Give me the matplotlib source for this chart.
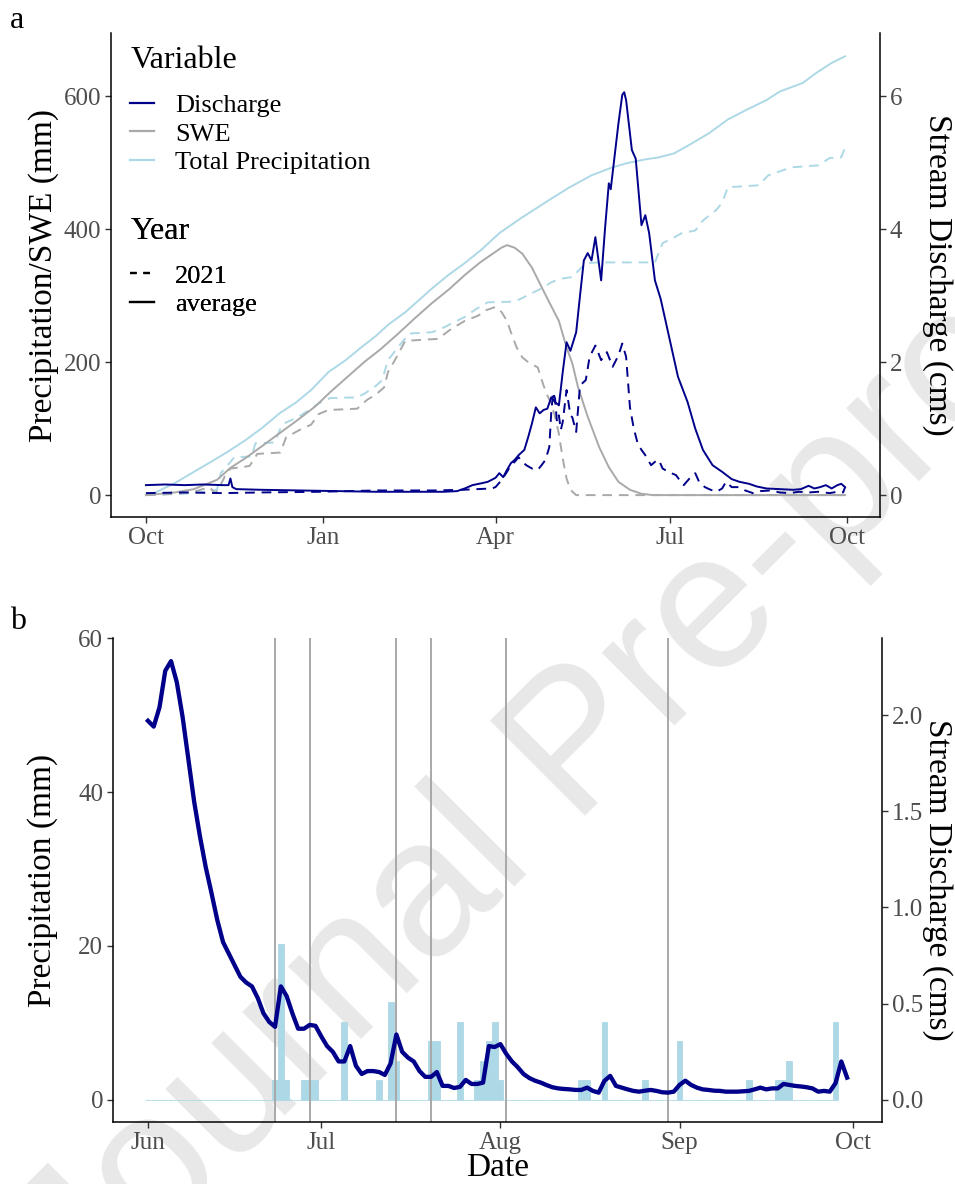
import matplotlib.pyplot as plt
import matplotlib.dates as mdates
from matplotlib.lines import Line2D
import numpy as np
import pandas as pd

plt.rcParams['font.family'] = ['Liberation Serif', 'DejaVu Serif']

NAVY = '#00008B'
GREY = '#A9A9A9'
LBLUE = '#ADD8E6'
TICK_GREY = '#4D4D4D'

# ---- panel a: water year, day 0 = 1 Oct 2020 ----
wy_start = pd.Timestamp('2020-10-01')

precip_avg_days = [0, 5, 15, 25, 35, 43, 52, 60, 70, 78, 86, 95, 104, 112, 120, 126, 135, 149,
                   157, 166, 175, 184, 195, 210, 220, 232, 242, 250, 260, 267, 275, 283, 293,
                   303, 313, 323, 330, 342, 349, 357, 364]
precip_avg_mm = [0, 4, 18, 35, 52, 66, 83, 100, 124, 139, 158, 185, 203, 222, 240, 256, 275, 311,
                 330, 349, 370, 394, 416, 444, 462, 481, 492, 499, 505, 508, 514, 527, 544,
                 565, 580, 594, 607, 620, 635, 650, 660]

precip_2021_days = [0, 20, 30, 37, 39, 44, 46, 55, 57, 67, 70, 72, 79, 86, 90, 96, 110, 114, 120,
                    123, 126, 132, 137, 149, 155, 159, 166, 172, 178, 192, 197, 206, 211, 215,
                    222, 226, 229, 236, 265, 269, 274, 279, 286, 290, 297, 300, 303, 319, 324,
                    333, 336, 350, 356, 362, 364]
precip_2021_mm = [0, 2, 5, 8, 33, 50, 57, 58, 78, 79, 100, 108, 117, 130, 138, 146, 147, 153, 165,
                  173, 203, 225, 243, 245, 252, 258, 268, 280, 290, 291, 298, 311, 320, 325,
                  328, 340, 349, 350, 350, 379, 386, 394, 398, 413, 429, 440, 463, 466, 481,
                  490, 493, 496, 507, 508, 523]

swe_avg_days = [0, 15, 25, 37, 44, 52, 62, 70, 79, 88, 96, 105, 114, 122, 131, 140, 149, 158, 166,
                174, 180, 185, 188, 192, 196, 201, 206, 210, 215, 219, 222, 225, 230, 236, 241,
                246, 252, 258, 264, 364]
swe_avg_mm = [0, 4, 9, 23, 41, 56, 77, 94, 113, 133, 155, 178, 201, 219, 242, 266, 289, 310, 331,
              350, 362, 372, 376, 372, 363, 342, 313, 290, 262, 222, 198, 162, 118, 72, 42,
              20, 8, 2, 0, 0]

swe_2021_days = [0, 15, 25, 33, 36, 38, 41, 44, 50, 54, 58, 70, 73, 80, 86, 90, 95, 110, 115, 120,
                 124, 126, 130, 135, 152, 159, 166, 173, 177, 182, 185, 188, 190, 193, 196, 199,
                 204, 207, 209, 211, 213, 215, 217, 219, 221, 224, 364]
swe_2021_mm = [0, 2, 5, 12, 3, 10, 28, 40, 42, 44, 62, 64, 87, 98, 106, 122, 128, 130, 143, 152,
               162, 185, 205, 232, 235, 250, 262, 270, 278, 283, 276, 262, 245, 222, 207, 200,
               192, 165, 150, 138, 118, 92, 55, 25, 8, 0, 0]

q_avg_days = [0, 10, 20, 30, 40, 43, 44, 45, 47, 60, 80, 100, 120, 140, 155, 162, 166, 170, 175,
              178, 182, 184, 186, 188, 190, 192, 194, 197, 199, 201, 203, 205, 207, 209, 211, 213,
              215, 217, 219, 221, 224, 226, 228, 230, 232, 234, 237, 239, 241, 242, 243, 246,
              248, 249, 250, 253, 255, 258, 260, 262, 265, 268, 272, 277, 282, 286, 290, 295,
              300, 305, 309, 314, 318, 323, 330, 337, 341, 345, 348, 351, 354, 357, 360, 362, 364]
q_avg_cms = [0.15, 0.16, 0.15, 0.16, 0.15, 0.15, 0.25, 0.12, 0.09, 0.08, 0.07, 0.06, 0.05, 0.05,
             0.05, 0.06, 0.10, 0.15, 0.18, 0.20, 0.26, 0.33, 0.27, 0.38, 0.48, 0.53, 0.60, 0.68,
             0.87, 1.08, 1.32, 1.23, 1.28, 1.30, 1.47, 1.40, 1.35, 1.85, 2.30, 2.17, 2.45, 3.00,
             3.53, 3.64, 3.53, 3.88, 3.23, 4.00, 4.69, 4.60, 4.85, 5.59, 6.02, 6.06, 5.94, 5.19,
             5.06, 4.06, 4.21, 3.94, 3.23, 2.95, 2.43, 1.78, 1.40, 1.00, 0.68, 0.45, 0.35, 0.24,
             0.20, 0.17, 0.13, 0.10, 0.09, 0.08, 0.09, 0.14, 0.10, 0.12, 0.15, 0.10, 0.15, 0.17,
             0.12]

q_2021_days = [0, 20, 40, 60, 90, 120, 150, 165, 180, 182, 185, 188, 190, 192, 194, 196, 198, 201,
               204, 206, 208, 210, 211, 212, 213, 214, 215, 216, 217, 219, 221, 222, 224, 226,
               229, 231, 234, 237, 240, 243, 246, 248, 250, 252, 254, 256, 258, 260, 263, 265,
               267, 269, 272, 276, 278, 280, 283, 286, 288, 291, 294, 297, 300, 302, 305, 309,
               312, 316, 320, 325, 330, 335, 340, 345, 350, 356, 360, 363, 364]
q_2021_cms = [0.03, 0.04, 0.03, 0.04, 0.05, 0.07, 0.07, 0.08, 0.10, 0.12, 0.22, 0.35, 0.45, 0.50,
              0.57, 0.50, 0.45, 0.40, 0.38, 0.45, 0.53, 0.72, 1.23, 1.55, 1.45, 1.10, 1.20, 0.98,
              1.10, 1.58, 1.20, 1.17, 0.95, 1.65, 1.73, 2.08, 2.25, 2.03, 2.15, 1.93, 2.10, 2.28,
              2.08, 1.32, 1.00, 0.78, 0.68, 0.60, 0.45, 0.50, 0.53, 0.40, 0.35, 0.30, 0.22, 0.15,
              0.25, 0.33, 0.20, 0.12, 0.08, 0.05, 0.10, 0.20, 0.12, 0.12, 0.07, 0.03, 0.06, 0.07,
              0.04, 0.03, 0.05, 0.04, 0.05, 0.03, 0.05, 0.04, 0.12]

# ---- panel b: summer 2021, day 0 = 1 Jun 2021 ----
summer_start = pd.Timestamp('2021-06-01')

q_summer_cms = [1.97, 1.94, 2.04, 2.23, 2.28, 2.17, 1.99, 1.77, 1.55, 1.37, 1.21, 1.075, 0.935,
                0.82, 0.76, 0.70, 0.64, 0.61, 0.59, 0.53, 0.45, 0.405, 0.38, 0.59, 0.54, 0.45,
                0.37, 0.37, 0.39, 0.385, 0.33, 0.28, 0.25, 0.20, 0.20, 0.28, 0.177, 0.135, 0.15,
                0.15, 0.145, 0.13, 0.19, 0.34, 0.25, 0.22, 0.20, 0.15, 0.12, 0.12, 0.145, 0.073,
                0.073, 0.062, 0.068, 0.104, 0.083, 0.083, 0.09, 0.28, 0.275, 0.29, 0.24, 0.20,
                0.17, 0.135, 0.114, 0.10, 0.09, 0.077, 0.066, 0.06, 0.057, 0.055, 0.052, 0.052,
                0.064, 0.047, 0.038, 0.099, 0.125, 0.073, 0.064, 0.055, 0.047, 0.043, 0.048,
                0.052, 0.047, 0.04, 0.038, 0.043, 0.078, 0.10, 0.078, 0.064, 0.055, 0.052, 0.048,
                0.047, 0.043, 0.043, 0.043, 0.045, 0.047, 0.055, 0.064, 0.055, 0.06, 0.06, 0.083,
                0.078, 0.073, 0.07, 0.066, 0.06, 0.043, 0.047, 0.043, 0.087, 0.20, 0.116]

rain_ndays = 120
rain_days = [22, 23, 24, 27, 28, 29, 34, 40, 42, 43, 49, 50, 54, 57, 58, 59, 60, 61, 75, 76, 79,
             86, 92, 104, 109, 110, 111, 119]
rain_mm = [2.54, 20.32, 2.54, 2.54, 2.54, 2.54, 10.16, 2.54, 12.7, 5.08, 7.62, 7.62, 10.16, 2.54,
           5.08, 7.62, 10.16, 2.54, 2.54, 2.54, 10.16, 2.54, 7.62, 2.54, 2.54, 2.54, 5.08, 10.16]

sample_dates = ['2021-06-23', '2021-06-29', '2021-07-14', '2021-07-20', '2021-08-02', '2021-08-30']


def to_dates(start, days):
    return start + pd.to_timedelta(np.asarray(days), unit='D')


def style_axes(ax, right=False):
    for side in ['top', 'right', 'left', 'bottom']:
        ax.spines[side].set_visible(False)
    if right:
        ax.spines['right'].set_visible(True)
        ax.spines['right'].set_linewidth(1.1)
    else:
        ax.spines['left'].set_visible(True)
        ax.spines['bottom'].set_visible(True)
        ax.spines['left'].set_linewidth(1.1)
        ax.spines['bottom'].set_linewidth(1.1)
    ax.tick_params(labelsize=18, labelcolor=TICK_GREY, color='#333333', length=4, width=1, pad=3)


def add_legend(ax, handles, labels, title, top):
    leg = ax.legend(handles, labels, title=title, loc='upper left', bbox_to_anchor=(0.008, top),
                    frameon=False, fontsize=19, title_fontsize=23, handlelength=0.9,
                    handletextpad=0.8, labelspacing=0.2, alignment='left', borderaxespad=0.1)
    # extra room between the legend title and its keys
    leg._legend_box.sep = 13
    ax.add_artist(leg)
    return leg


fig = plt.figure(figsize=(9.55, 11.84), dpi=100)

# watermark
fig.text(0.089, -0.111, 'Journal Pre-proof', rotation=45, rotation_mode='anchor',
         ha='left', va='baseline', fontsize=140, color='#E8E8E8',
         family=['Liberation Sans', 'DejaVu Sans'], zorder=-10)

# ---------- panel a ----------
ax1 = fig.add_axes([0.1162, 0.5633, 0.8053, 0.4088])
ax1.set_facecolor('none')
ax1r = ax1.twinx()

ax1.plot(to_dates(wy_start, precip_avg_days), precip_avg_mm, color=LBLUE, lw=1.4)
ax1.plot(to_dates(wy_start, precip_2021_days), precip_2021_mm, color=LBLUE, lw=1.4, dashes=(5, 3.5))
ax1.plot(to_dates(wy_start, swe_avg_days), swe_avg_mm, color=GREY, lw=1.4)
ax1.plot(to_dates(wy_start, swe_2021_days), swe_2021_mm, color=GREY, lw=1.4, dashes=(5, 3.5))
ax1r.plot(to_dates(wy_start, q_avg_days), q_avg_cms, color=NAVY, lw=1.4)
ax1r.plot(to_dates(wy_start, q_2021_days), q_2021_cms, color=NAVY, lw=1.4, dashes=(5, 3.5))

pad_a = pd.Timedelta(days=18.2)
ax1.set_xlim(wy_start - pad_a, wy_start + pd.Timedelta(days=364) + pad_a)
ax1.set_ylim(-33, 695)
ax1r.set_ylim(-0.33, 6.95)
ax1.set_yticks([0, 200, 400, 600])
ax1r.set_yticks([0, 2, 4, 6])
ax1.set_xticks(pd.to_datetime(['2020-10-01', '2021-01-01', '2021-04-01', '2021-07-01', '2021-10-01']))
ax1.xaxis.set_major_formatter(mdates.DateFormatter('%b'))
style_axes(ax1)
style_axes(ax1r, right=True)

ax1.set_ylabel('Precipitation/SWE (mm)', fontsize=24)
ax1.yaxis.set_label_coords(-0.088, 0.5)
ax1.yaxis.label.set_va('center')
ax1r.set_ylabel('Stream Discharge (cms)', fontsize=24, rotation=270)
ax1r.yaxis.set_label_coords(1.074, 0.5)
ax1r.yaxis.label.set_va('center')

var_handles = [Line2D([], [], color=NAVY, lw=1.6), Line2D([], [], color=GREY, lw=1.6),
               Line2D([], [], color=LBLUE, lw=1.6)]
add_legend(ax1r, var_handles, ['Discharge', 'SWE', 'Total Precipitation'], 'Variable', 1.0)
year_handles = [Line2D([], [], color='black', lw=1.6, dashes=(3, 3)),
                Line2D([], [], color='black', lw=1.6)]
add_legend(ax1r, year_handles, ['2021', 'average'], 'Year', 0.647)

fig.text(0.010, 0.995, 'a', fontsize=23, va='top', ha='left')

# ---------- panel b ----------
ax2 = fig.add_axes([0.1183, 0.0524, 0.8053, 0.4087])
ax2.set_facecolor('none')
ax2r = ax2.twinx()

rain_daily = np.zeros(rain_ndays)
rain_daily[rain_days] = rain_mm
ax2.bar(to_dates(summer_start, np.arange(rain_ndays)), rain_daily, width=1.0, color=LBLUE,
        edgecolor=LBLUE, linewidth=0.6, zorder=1)
for d in sample_dates:
    ax2.axvline(pd.Timestamp(d), color='#A8A8A8', lw=1.4, zorder=2)
ax2r.plot(to_dates(summer_start, np.arange(len(q_summer_cms))), q_summer_cms, color=NAVY, lw=3.1,
          solid_joinstyle='round')

pad_b = pd.Timedelta(days=6.05)
ax2.set_xlim(summer_start - pad_b, summer_start + pd.Timedelta(days=121) + pad_b)
ax2.set_ylim(-2.86, 60.0)
ax2r.set_ylim(-2.86 / 25, 60.0 / 25)
ax2.set_yticks([0, 20, 40, 60])
ax2r.set_yticks([0.0, 0.5, 1.0, 1.5, 2.0])
ax2r.yaxis.set_major_formatter(plt.FormatStrFormatter('%.1f'))
ax2.set_xticks(pd.to_datetime(['2021-06-01', '2021-07-01', '2021-08-01', '2021-09-01', '2021-10-01']))
ax2.xaxis.set_major_formatter(mdates.DateFormatter('%b'))
style_axes(ax2)
style_axes(ax2r, right=True)

ax2.set_ylabel('Precipitation (mm)', fontsize=24)
ax2.yaxis.set_label_coords(-0.091, 0.5)
ax2.yaxis.label.set_va('center')
ax2r.set_ylabel('Stream Discharge (cms)', fontsize=24, rotation=270)
ax2r.yaxis.set_label_coords(1.0715, 0.5)
ax2r.yaxis.label.set_va('center')
ax2.set_xlabel('Date', fontsize=24)
ax2.xaxis.set_label_coords(0.5, -0.095)
ax2.xaxis.label.set_va('center')

fig.text(0.010, 0.487, 'b', fontsize=23, va='top', ha='left')

fig.savefig('out.png', dpi=100)
